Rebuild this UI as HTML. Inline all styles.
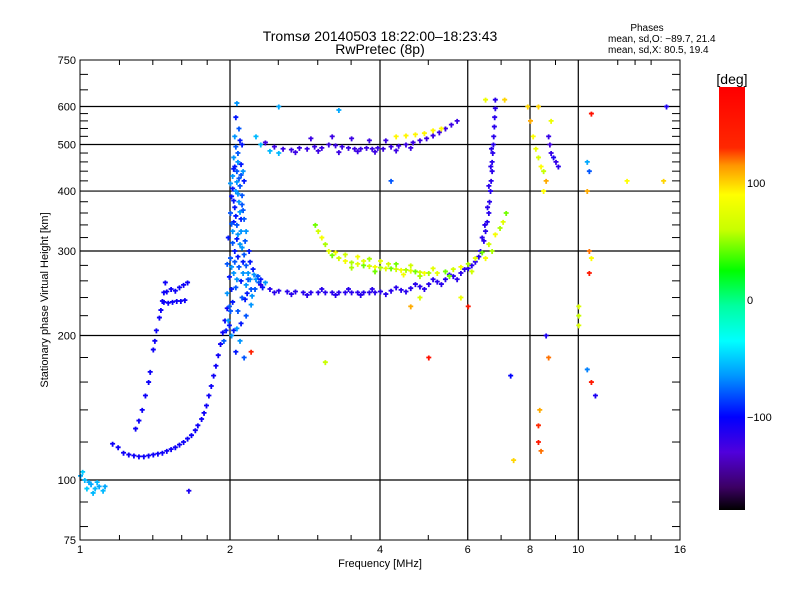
<!DOCTYPE html>
<html><head><meta charset="utf-8"><style>
body{margin:0;background:#fff;}
svg text{font-family:"Liberation Sans","DejaVu Sans",sans-serif;fill:#000;}
</style></head><body>
<svg id="chart" width="800" height="600" viewBox="0 0 800 600" xmlns="http://www.w3.org/2000/svg">
<rect width="800" height="600" fill="#fff"/>
<text x="380" y="41" font-size="14" text-anchor="middle">Tromsø 20140503 18:22:00–18:23:43</text>
<text x="380" y="54" font-size="14" text-anchor="middle">RwPretec (8p)</text>
<text x="647" y="31" font-size="10" text-anchor="middle">Phases</text>
<text x="608" y="42" font-size="10">mean, sd,O: −89.7, 21.4</text>
<text x="608" y="53" font-size="10">mean, sd,X:  80.5, 19.4</text>
<g id="grid"></g>
<g id="marks"></g>
<rect x="80" y="60" width="600" height="480" fill="none" stroke="#000" stroke-width="1"/>
<g id="axes"></g>
<text x="380" y="567" font-size="11" text-anchor="middle">Frequency [MHz]</text>
<text transform="translate(48,300) rotate(-90)" font-size="11" text-anchor="middle">Stationary phase Virtual Height [km]</text>
<defs><linearGradient id="cmap" x1="0" y1="0" x2="0" y2="1"></linearGradient></defs>
<rect x="719" y="87" width="26" height="423" fill="url(#cmap)"/>
<text x="732" y="84" font-size="14" text-anchor="middle">[deg]</text>
<g id="cbticks"></g>
</svg>
<script>
const xTicks=[1,2,4,6,8,10,16];
const xMinor=[1.2,1.4,1.6,1.8,2.5,3,3.5,5,7,9,12,13,14];
const yTicks=[75,100,200,300,400,500,600,750];
const yGrid=[100,200,300,400,500,600];
const yMinor=[80,90,120,140,160,180,220,240,260,280,320,340,360,380,420,440,460,480,520,540,560,580,650,700];
const cbTicks=[100,0,-100];
const cmapStops=[[180,255,0,0],[130,255,40,0],[115,255,150,0],[90,255,255,0],[60,200,255,0],[25,0,255,0],[-5,0,255,160],[-35,0,255,255],[-65,0,150,255],[-100,0,0,255],[-130,80,0,220],[-160,60,0,100],[-180,0,0,0]];

const eTrace=[[1.16,119],[1.19,117],[1.22,114],[1.25,113],[1.28,112.5],[1.31,112],[1.34,112],[1.37,112.5],[1.40,113],[1.43,113.5],[1.46,114],[1.49,115],[1.52,116],[1.55,117],[1.58,118.5],[1.61,120],[1.64,122],[1.67,124],[1.70,127],[1.72,130],[1.75,134],[1.77,138],[1.79,143],[1.81,150],[1.83,157],[1.85,165],[1.87,173],[1.89,182],[1.91,192],[1.93,203],[1.95,215],[1.97,228]];
const eTracePhase=-105;
const f1Trace=[[1.29,128],[1.31,133],[1.33,140],[1.35,150],[1.37,160],[1.38,168],[1.40,187],[1.41,195],[1.42,205],[1.44,218],[1.45,226],[1.46,236],[1.47,246],[1.48,258],[1.47,235],[1.50,234],[1.53,235],[1.56,236],[1.59,236],[1.62,237],[1.49,247],[1.52,250],[1.55,248],[1.58,252],[1.61,255],[1.64,258]];
const f1Phase=-105;
const spreadCluster=[[1.96,205],[1.98,215],[2.00,225],[2.02,235],[1.97,245],[2.05,252],[2.10,260],[2.15,255],[2.20,250],[1.99,265],[2.03,270],[2.08,278],[2.12,285],[2.17,270],[2.00,290],[2.04,300],[2.09,310],[2.13,295],[1.98,320],[2.02,330],[2.06,340],[2.10,350],[2.15,330],[2.00,360],[2.04,370],[2.08,380],[2.12,365],[2.01,390],[2.05,400],[2.09,410],[2.13,420],[2.02,430],[2.06,440],[2.10,455],[2.03,470],[2.07,480],[2.11,500],[2.04,520],[2.08,540],[2.05,570],[2.06,610],[1.99,230],[2.01,250],[2.06,262],[2.11,240],[2.16,245],[2.19,262],[2.07,225],[2.03,205],[2.09,195],[2.13,180],[2.05,185],[2.01,200],[2.14,315],[2.18,300],[2.07,325],[2.11,375],[2.03,345],[2.00,415],[2.08,425],[2.04,450],[2.12,440],[1.97,282],[2.22,275],[2.25,262],[2.28,258],[2.32,252],[2.20,232],[2.15,220],[2.10,212],[2.06,207],
[1.94,195],[1.99,210],[2.01,278],[2.04,285],[2.07,292],[2.11,305],[2.15,280],[2.19,285],[2.23,268],[2.27,266],[2.30,262],[2.35,258],[2.02,312],[2.06,318],[2.10,330],[2.01,342],[2.05,355],[2.09,362],[2.13,350],[2.03,382],[2.07,395],[2.11,392],[2.02,405],[2.06,418],[2.10,432],[2.03,445],[2.07,460],[2.05,495],[2.09,510],[2.12,270],[2.17,262],[2.14,238],[2.21,242],[2.24,250]];
const spreadPhases=[-95,-65,-80];
const oTrace=[[2.3,255],[2.4,250],[2.5,248],[2.6,247],[2.7,247],[2.8,246],[2.9,246],[3.0,246],[3.1,246],[3.2,246],[3.3,246],[3.4,246],[3.5,246],[3.6,246],[3.7,246],[3.8,246],[3.9,246],[4.0,247],[4.2,248],[4.4,249],[4.6,251],[4.8,253],[5.0,256],[5.2,259],[5.4,262],[5.6,266],[5.8,270],[6.0,276],[6.2,285],[6.35,300],[6.45,315],[6.5,330],[6.55,345],[6.6,360],[6.62,380],[6.65,400],[6.67,420],[6.7,440],[6.7,460],[6.72,480],[6.74,500],[6.75,520],[6.77,545],[6.78,570],[6.8,595],[6.8,620],
[2.45,246],[2.65,244],[2.85,243],[3.05,250],[3.25,243],[3.45,250],[3.65,243],[3.85,250],[4.1,244],[4.3,252],[4.5,247],[4.7,256],[4.9,250],[5.1,262],[5.3,256],[5.5,268],[5.7,262],[5.9,275],[6.1,280],[6.3,292],[6.4,320],[6.48,340],[6.56,370],[6.6,410],[6.66,450],[6.68,490]];
const oPhase=-115;
const upperTrace=[[2.35,505],[2.45,495],[2.55,490],[2.65,488],[2.75,492],[2.85,490],[2.95,495],[3.05,492],[3.15,500],[3.25,498],[3.35,495],[3.45,492],[3.55,490],[3.65,490],[3.75,492],[3.85,490],[3.95,492],[4.05,490],[4.2,495],[4.35,497],[4.5,500],[4.65,505],[4.8,510],[4.95,515],[5.1,522],[5.25,530],[5.4,540],[5.55,550],[5.7,560],[2.9,515],[3.2,520],[3.5,515],[3.8,510],[4.1,510],[2.7,482],[3.0,485],[3.3,482],[3.6,484],[3.9,483],[4.3,486],[4.6,492]];
const upperPhase=-122;
const upperCyan=[[2.25,520],[2.3,500],[2.4,485],[2.5,480]];
const upperCyanPhase=-55;
const upperX=[[4.3,520],[4.5,522],[4.7,525],[4.9,528],[5.1,535],[5.3,540]];
const upperXPhase=92;
const xTrace=[[2.96,340],[3.0,330],[3.05,320],[3.1,310],[3.15,300],[3.2,294],[3.3,290],[3.4,286],[3.5,284],[3.6,282],[3.7,280],[3.8,279],[3.9,278],[4.0,277],[4.1,276],[4.2,276],[4.3,275],[4.4,274],[4.5,274],[4.6,273],[4.7,272],[4.8,271],[4.9,270],[5.0,270],[5.2,270],[5.4,272],[5.6,275],[5.8,278],[6.0,282],[6.2,290],[6.4,298],[6.6,310],[6.8,325],[6.95,335],[7.05,345],[7.15,360],[3.4,295],[3.6,292],[3.8,289],[4.0,286],[4.3,282],[4.6,280],[3.25,298],[3.5,277],[3.7,286],[3.9,272],[4.15,282],[4.45,268],[4.8,266],[5.1,276],[5.5,266],[6.1,272],[6.5,290],[6.7,300]];
const xPhases=[45,65,85,55,75];
const scatter=[[7.9,600,100],[8.0,560,110],[8.1,520,90],[8.2,490,80],[8.3,470,70],[8.4,450,90],[8.5,440,60],[8.7,520,-120],[8.75,500,-125],[8.8,480,-120],[8.9,470,-110],[9.0,460,-120],[9.1,450,-115],[8.6,420,110],[8.5,400,90],[8.8,560,80],[8.3,600,100],[7.1,620,100],[6.5,620,80],[10.5,440,-80],[10.5,300,120],[10.5,270,150],[10.6,290,90],[10.4,400,110],[10.4,460,-60],[10.6,580,160],[10.4,170,-70],[10.6,160,150],[10.8,150,-110],[10.0,230,70],[10.0,220,60],[10.0,210,70],[8.3,130,130],[8.3,120,150],[8.4,115,120],[8.35,140,110],[8.6,200,-110],[8.7,180,120],[7.3,165,-100],[7.4,110,100],[6.0,230,150],[5.8,240,80],[4.6,230,110],[4.8,240,70],[5.0,180,160],[3.1,176,60],[2.2,185,140],[2.5,600,-60],[4.2,420,-80],[3.3,590,-60],[12.5,420,90],[14.8,420,100],[15,600,-110],[1.65,95,-110],[1.0,102,-60],[1.02,100,-55],[1.03,96,-50],[1.05,98,-60],[1.07,96,-55],[1.09,97,-60],[1.11,95,-55],[1.01,104,-50],[1.04,99,-60],[1.06,94,-55],[1.08,99,-55],[1.12,97,-60]];

const NS='http://www.w3.org/2000/svg';
const X0=80,X1=680,Y0=540,Y1=60;
function xs(f){return X0+(X1-X0)*Math.log2(f)/4;}
function ys(h){return Y0-(Y0-Y1)*Math.log10(h/75);}
function cs(p){return 300-p*1.17;}
function color(p){
  for(let i=0;i<cmapStops.length-1;i++){const a=cmapStops[i],b=cmapStops[i+1];
    if(p<=a[0]&&p>=b[0]){const t=(a[0]-p)/(a[0]-b[0]);
      return 'rgb('+[1,2,3].map(k=>Math.round(a[k]+(b[k]-a[k])*t)).join(',')+')';}}
  return p>0?'rgb(255,0,0)':'rgb(0,0,0)';
}
function mk(tag,attrs,parent){const e=document.createElementNS(NS,tag);for(const k in attrs)e.setAttribute(k,attrs[k]);parent.appendChild(e);return e;}
const grid=document.getElementById('grid'),axes=document.getElementById('axes'),marks=document.getElementById('marks');
xTicks.slice(1,-1).forEach(f=>{const l=mk('line',{x1:xs(f),x2:xs(f),y1:Y1,y2:Y0,stroke:'#000','stroke-width':1.2},grid);

});
yGrid.forEach(h=>{const l=mk('line',{x1:X0,x2:X1,y1:ys(h),y2:ys(h),stroke:'#000','stroke-width':1.2},grid);

});
xTicks.forEach(f=>{const t=mk('text',{x:xs(f),y:553,'font-size':11,'text-anchor':'middle'},axes);t.textContent=f;

});
xMinor.forEach(f=>{mk('line',{x1:xs(f),x2:xs(f),y1:Y0,y2:Y0-5,stroke:'#000'},axes);mk('line',{x1:xs(f),x2:xs(f),y1:Y1,y2:Y1+5,stroke:'#000'},axes);});
yTicks.forEach(h=>{const t=mk('text',{x:76,y:ys(h)+4,'font-size':11,'text-anchor':'end'},axes);t.textContent=h;

});
yMinor.forEach(h=>{mk('line',{x1:X0,x2:X0+8,y1:ys(h),y2:ys(h),stroke:'#000'},axes);mk('line',{x1:X1,x2:X1-8,y1:ys(h),y2:ys(h),stroke:'#000'},axes);});
function plus(f,h,p,name){const x=xs(f),y=ys(h);
  const e=mk('path',{d:`M${x-2} ${y}h5M${x+0.5} ${y-2}v5`,stroke:color(p),'stroke-width':1.8,fill:'none'},marks);
  
  }
eTrace.forEach(d=>plus(d[0],d[1],eTracePhase,'e-trace-point'));
f1Trace.forEach(d=>plus(d[0],d[1],f1Phase,'f1-trace-point'));
spreadCluster.forEach((d,i)=>plus(d[0],d[1],spreadPhases[i%3],'spread-f-point'));
oTrace.forEach(d=>plus(d[0],d[1],oPhase,'o-trace-point'));
upperTrace.forEach(d=>plus(d[0],d[1],upperPhase,'upper-trace-point'));
upperCyan.forEach(d=>plus(d[0],d[1],upperCyanPhase,'upper-trace-point'));
upperX.forEach(d=>plus(d[0],d[1],upperXPhase,'upper-x-point'));
xTrace.forEach((d,i)=>plus(d[0],d[1],xPhases[i%xPhases.length],'x-trace-point'));
scatter.forEach(d=>plus(d[0],d[1],d[2],'scatter-point'));
const grad=document.getElementById('cmap');
cmapStops.forEach(s=>{mk('stop',{offset:((cs(s[0])-87)/423).toFixed(4),'stop-color':`rgb(${s[1]},${s[2]},${s[3]})`},grad);});
const cbg=document.getElementById('cbticks');
cbTicks.forEach(v=>{const t=mk('text',{x:747,y:cs(v)+4,'font-size':11},cbg);t.textContent=v===-100?'−100':v;

});
</script>
</body></html>
